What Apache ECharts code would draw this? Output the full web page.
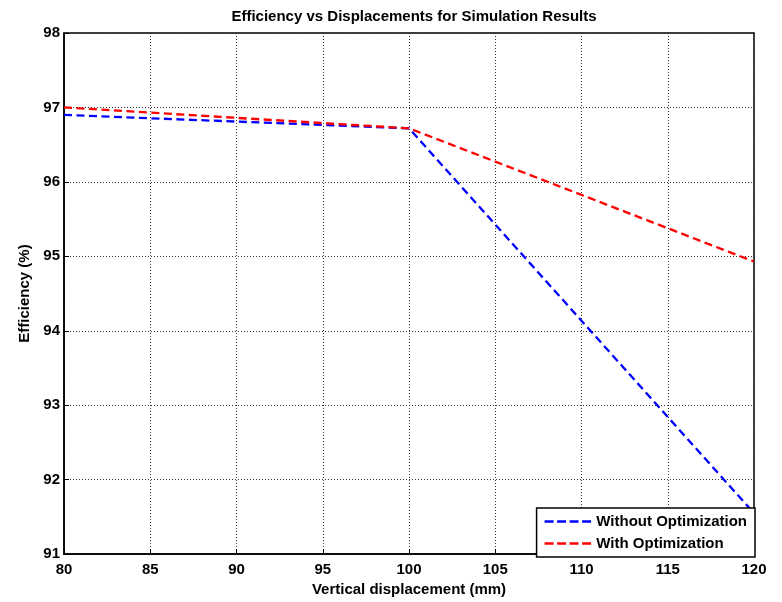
<!DOCTYPE html>
<html><head><meta charset="utf-8">
<script src="https://cdn.jsdelivr.net/npm/echarts@6/dist/echarts.min.js"></script>
<style>html,body{margin:0;padding:0;background:#fff}#c{width:782px;height:602px}</style>
</head><body><div id="c"></div>
<script>
const xValues = [80, 100, 120];
const withoutOpt = [96.9, 96.72, 91.55];
const withOpt = [97.0, 96.72, 94.93];
const seriesNames = ['Without Optimization', 'With Optimization'];
const titleText = 'Efficiency vs Displacements for Simulation Results';
const xName = 'Vertical displacement (mm)';
const yName = 'Efficiency (%)';

const chart = echarts.init(document.getElementById('c'));
const font = 'Arial, "Liberation Sans", sans-serif';
const pair = (xs, ys) => xs.map((x, i) => [x, ys[i]]);
const dashIcon = 'path://M0,0h9v2.5h-9zM12.5,0h9v2.5h-9zM25,0h9v2.5h-9zM37.5,0h9v2.5h-9z';
chart.setOption({
  animation: false,
  backgroundColor: '#fff',
  title: {text: titleText, left: 409, top: 4, textAlign: 'center',
    textStyle: {fontFamily: font, fontSize: 15, fontWeight: 'bold', color: '#000'}},
  grid: {left: 64, right: 28, top: 33, bottom: 44, show: true, borderColor: '#000', borderWidth: 1.5, backgroundColor: '#fff'},
  legend: {right: 27, bottom: 45, orient: 'vertical', backgroundColor: '#fff', borderColor: '#000', borderWidth: 1.5,
    padding: [6, 8, 6, 8], itemGap: 7, itemWidth: 47, itemHeight: 2.5,
    textStyle: {fontFamily: font, fontSize: 15, fontWeight: 'bold', color: '#000', lineHeight: 14},
    data: [
      {name: seriesNames[0], icon: dashIcon, itemStyle: {color: '#0000ff'}},
      {name: seriesNames[1], icon: dashIcon, itemStyle: {color: '#ff0000'}}
    ]},
  xAxis: {type: 'value', min: 80, max: 120, interval: 5, name: xName, nameLocation: 'middle', nameGap: 25,
    nameTextStyle: {fontFamily: font, fontSize: 15, fontWeight: 'bold', color: '#000'},
    axisLine: {lineStyle: {color: '#000', width: 1.5}},
    axisTick: {inside: true, length: 5, lineStyle: {color: '#000'}},
    axisLabel: {fontFamily: font, fontSize: 15, fontWeight: 'bold', color: '#000', margin: 8},
    splitLine: {show: true, lineStyle: {color: '#333', type: [1, 2], width: 1}}},
  yAxis: {type: 'value', min: 91, max: 98, interval: 1, name: yName, nameLocation: 'middle', nameGap: 31,
    nameTextStyle: {fontFamily: font, fontSize: 15, fontWeight: 'bold', color: '#000'},
    axisLine: {lineStyle: {color: '#000', width: 1.5}},
    axisTick: {inside: true, length: 5, lineStyle: {color: '#000'}},
    axisLabel: {fontFamily: font, fontSize: 15, fontWeight: 'bold', color: '#000', margin: 4},
    splitLine: {show: true, lineStyle: {color: '#333', type: [1, 2], width: 1}}},
  series: [
    {name: seriesNames[0], type: 'line', data: pair(xValues, withoutOpt), symbol: 'none', clip: true,
      lineStyle: {color: '#0000ff', width: 2.3, type: [8, 4.5]}, itemStyle: {color: '#0000ff'}, z: 3},
    {name: seriesNames[1], type: 'line', data: pair(xValues, withOpt), symbol: 'none', clip: true,
      lineStyle: {color: '#ff0000', width: 2.3, type: [8, 4.5]}, itemStyle: {color: '#ff0000'}, z: 3}
  ]
});
</script></body></html>
